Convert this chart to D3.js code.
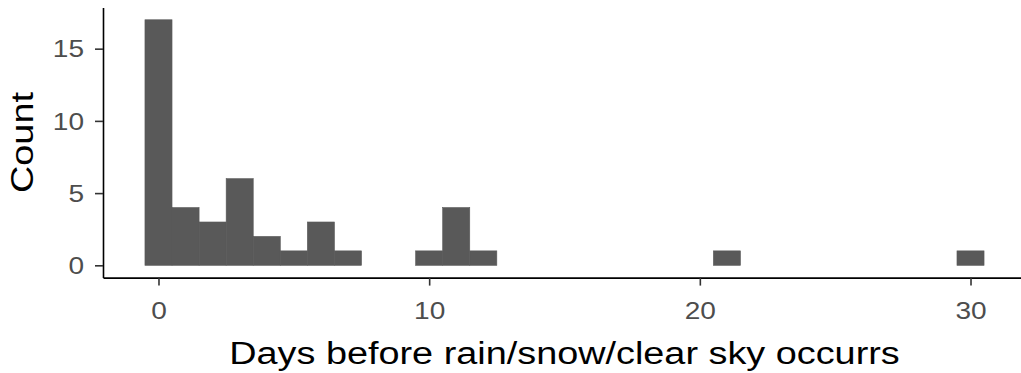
<!DOCTYPE html>
<html>
<head>
<meta charset="utf-8">
<script src="https://cdn.jsdelivr.net/npm/d3@7"></script>
<style>
  body { margin: 0; background: #fff; }
  svg { display: block; overflow: hidden; }
  text { font-family: "Liberation Sans", Arial, sans-serif; }
</style>
</head>
<body>
<div class="mysvg"><svg></svg></div>
<script>
// bins (days) that have at least one observation, binwidth 1 centered on the day
var days   = [0, 1, 2, 3, 4, 5, 6, 7, 10, 11, 12, 21, 30];
var counts = [17, 4, 3, 6, 2, 1, 3, 1, 1, 4, 1, 1, 1];
var xTicks = [0, 10, 20, 30];
var yTicks = [0, 5, 10, 15];

var data = days.map(function (d, i) { return {day: d, count: counts[i]}; });

function drawHistogram(classname, data, labelX, labelY) {
  var W = 1021, H = 373;
  var stretch = 1.22; // glyphs in the reference are wider than plain Arial

  var svg = d3.select(classname + " > svg")
    .attr("width", W)
    .attr("height", H)
    .style("background-color", "#fff");

  // panel with ggplot-style 5% expansion (right edge runs past the picture)
  var x = d3.scaleLinear().domain([-2.05, 32.05]).range([103, 1026]);
  var y = d3.scaleLinear().domain([-0.85, 17.85]).range([277.6, 7.5]);

  svg.selectAll(".bar")
    .data(data)
    .enter().append("rect")
    .attr("class", "bar")
    .attr("x", function (d) { return x(d.day - 0.5); })
    .attr("width", function (d) { return x(d.day + 0.5) - x(d.day - 0.5); })
    .attr("y", function (d) { return y(d.count); })
    .attr("height", function (d) { return y(0) - y(d.count); })
    .style("fill", "#595959")
    .style("stroke", "#595959")
    .style("stroke-width", 0.6);

  var xAxis = d3.axisBottom(x).tickValues(xTicks).tickSize(8).tickPadding(17).tickSizeOuter(0);
  var yAxis = d3.axisLeft(y).tickValues(yTicks).tickSize(8).tickPadding(11).tickSizeOuter(0);

  var gx = svg.append("g")
    .attr("class", "x axis")
    .attr("transform", "translate(0," + y.range()[0] + ")")
    .call(xAxis);

  var gy = svg.append("g")
    .attr("class", "y axis")
    .attr("transform", "translate(" + x.range()[0] + ",0)")
    .call(yAxis);

  [gx, gy].forEach(function (g) {
    g.select(".domain").style("stroke", "#000").style("stroke-width", 1.6);
    g.selectAll(".tick line").style("stroke", "#333").style("stroke-width", 1.6);
    g.selectAll(".tick text")
      .style("fill", "#4d4d4d")
      .style("font-size", "23px");
  });
  gy.selectAll(".tick text").attr("dy", "0.36em");

  // Labels
  svg.append("text")
    .attr("class", "title")
    .attr("text-anchor", "middle")
    .attr("x", 564.5)
    .attr("y", 364)
    .style("font-size", "31px")
    .style("fill", "#000")
    .text(labelX);

  svg.append("text")
    .attr("class", "title")
    .attr("text-anchor", "middle")
    .attr("transform", "translate(33," + ((y.range()[0] + y.range()[1]) / 2) + ")rotate(-90)")
    .style("font-size", "31px")
    .style("fill", "#000")
    .text(labelY);

  // widen the glyphs a bit so text takes the same room as in the reference
  svg.selectAll("text").each(function () {
    var len = this.getComputedTextLength();
    d3.select(this)
      .attr("textLength", len * stretch)
      .attr("lengthAdjust", "spacingAndGlyphs");
  });
}

drawHistogram(".mysvg", data, "Days before rain/snow/clear sky occurrs", "Count");
</script>
</body>
</html>
